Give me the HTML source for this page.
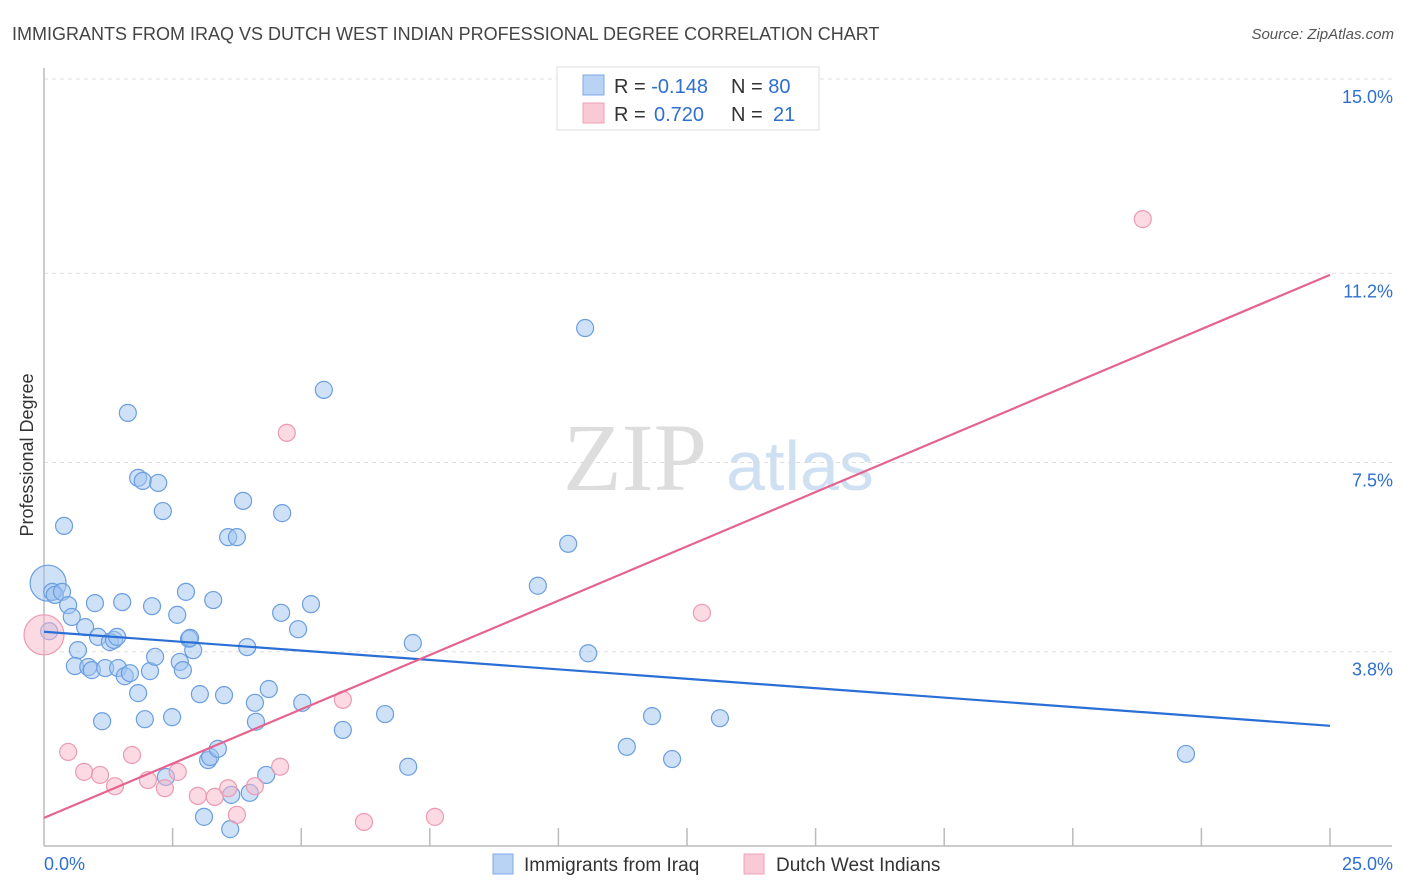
<!DOCTYPE html>
<html><head><meta charset="utf-8">
<style>
body{margin:0;background:#fff;font-family:"Liberation Sans",sans-serif;}
#wrap{position:relative;width:1406px;height:892px;overflow:hidden;}
</style></head>
<body>
<div id="wrap">
<svg id="chart" width="1406" height="892" xmlns="http://www.w3.org/2000/svg">
  <text x="12" y="40" font-size="18" fill="#444">IMMIGRANTS FROM IRAQ VS DUTCH WEST INDIAN PROFESSIONAL DEGREE CORRELATION CHART</text>
  <text x="1394" y="39" font-size="15" fill="#555" font-style="italic" text-anchor="end">Source: ZipAtlas.com</text>
  <text transform="translate(33,455) rotate(-90)" font-size="18" fill="#333" text-anchor="middle">Professional Degree</text>
  <g>
    <text x="635" y="490" font-size="96" fill="#ddd" font-family="Liberation Serif, serif" text-anchor="middle">ZIP</text>
    <text x="800" y="490" font-size="70" fill="#cfe0f3" text-anchor="middle">atlas</text>
  </g>
  <g id="grid"></g>
  <g id="axes"></g>
  <g id="pts"></g>
  <g id="trend"></g>
  <g>
    <rect x="557" y="67" width="262" height="63" fill="#fff" stroke="#ddd"/>
    <rect x="583" y="75" width="21" height="20" fill="#b9d3f5" stroke="#7fa9e6"/>
    <rect x="583" y="103" width="21" height="20" fill="#f9c9d6" stroke="#eea0b6"/>
    <text x="614" y="93" font-size="20" fill="#333">R = <tspan fill="#2e6fd0">-0.148</tspan><tspan x="731">N = </tspan><tspan fill="#2e6fd0">80</tspan></text>
    <text x="614" y="121" font-size="20" fill="#333">R = <tspan fill="#2e6fd0" x="654">0.720</tspan><tspan x="731">N = </tspan><tspan fill="#2e6fd0" x="773">21</tspan></text>
  </g>
  <g>
    <rect x="493" y="854" width="20" height="20" fill="#b9d3f5" stroke="#7fa9e6"/>
    <text x="524" y="871" font-size="19" fill="#333">Immigrants from Iraq</text>
    <rect x="744" y="854" width="20" height="20" fill="#f9c9d6" stroke="#eea0b6"/>
    <text x="776" y="871" font-size="19" fill="#333">Dutch West Indians</text>
  </g>
</svg>
</div>
<script>
const yTicks = [15.0, 11.2, 7.5, 3.8];
const yTickLabels = ["15.0%", "11.2%", "7.5%", "3.8%"];
const xTickCount = 10;
const xLabels = ["0.0%", "25.0%"];
const iraqX = [0.08,0.16,0.21,0.35,0.47,0.54,0.66,0.60,0.80,0.86,0.93,0.99,1.05,1.13,1.19,1.28,1.36,1.42,1.44,1.52,1.57,1.63,1.67,1.83,1.83,1.92,1.96,2.06,2.10,2.16,2.22,2.31,2.37,2.49,2.59,2.64,2.70,2.76,2.82,2.90,3.03,3.11,3.19,3.23,3.29,3.38,3.50,3.58,3.64,3.62,3.75,3.87,3.95,4.00,4.10,4.12,4.32,4.37,4.61,4.63,4.94,5.02,5.19,5.44,5.81,6.63,7.08,7.17,9.60,10.19,10.52,10.58,11.33,11.82,12.21,13.14,22.20,0.39,2.84,0.10];
const iraqY = [5.14,4.97,4.91,4.97,4.71,4.48,3.83,3.52,4.28,3.50,3.44,4.75,4.09,2.44,3.48,3.99,4.03,4.09,3.48,4.77,3.32,8.47,3.38,2.99,7.20,7.14,2.48,3.42,4.69,3.70,7.10,6.55,1.35,2.52,4.52,3.60,3.44,4.97,4.05,3.83,2.97,0.57,1.68,1.74,4.81,1.90,2.95,6.04,1.00,0.33,6.04,6.75,3.89,1.04,2.80,2.43,1.39,3.07,4.56,6.51,4.24,2.80,4.73,8.92,2.27,2.58,1.55,3.97,5.09,5.91,10.13,3.77,1.94,2.54,1.70,2.50,1.80,6.26,4.07,4.20];
const iraqSize = [18];
const dutchX = [0.0,0.47,0.78,1.09,1.38,1.71,2.02,2.35,2.60,2.99,3.32,3.58,3.75,4.10,4.59,4.72,5.81,6.22,7.60,12.79,21.36];
const dutchY = [4.13,1.84,1.45,1.39,1.17,1.78,1.29,1.13,1.45,0.98,0.96,1.13,0.61,1.17,1.55,8.08,2.86,0.47,0.57,4.56,12.26];
const dutchSize = [20];
const iraqTrend = [4.19, 2.35];
const dutchTrend = [0.55, 11.17];
const xDomain = [0, 25];
const yDomain = [0, 15];

const NS = "http://www.w3.org/2000/svg";
const X0 = 44, X1 = 1330, Y0 = 846, Y1 = 79;
function sx(v){ return X0 + (v - xDomain[0]) / (xDomain[1] - xDomain[0]) * (X1 - X0); }
function sy(v){ return Y0 - (v - yDomain[0]) / (yDomain[1] - yDomain[0]) * (Y0 - Y1); }
function mk(tag, attrs, parent){ const e = document.createElementNS(NS, tag); for (const k in attrs) e.setAttribute(k, attrs[k]); parent.appendChild(e); return e; }

const grid = document.getElementById('grid');
yTicks.forEach((t, i) => {
  const l = mk('line', {x1: 44, x2: 1392, y1: sy(t), y2: sy(t), stroke: '#ddd', 'stroke-dasharray': '4,4'}, grid);
  
  
  const tx = mk('text', {x: 1393, y: sy(t) + 24, 'font-size': 18, fill: '#2e6fd0', 'text-anchor': 'end'}, grid);
  tx.textContent = yTickLabels[i];
  
  
});
const axes = document.getElementById('axes');
const ya = mk('line', {x1: 44, x2: 44, y1: 68, y2: 846, stroke: '#bbb', 'stroke-width': 1.5}, axes);


const xa = mk('line', {x1: 44, x2: 1392, y1: 846, y2: 846, stroke: '#bbb', 'stroke-width': 1.5}, axes);


for (let i = 1; i <= xTickCount; i++) {
  const v = xDomain[0] + (xDomain[1] - xDomain[0]) * i / xTickCount;
  const t = mk('line', {x1: sx(v), x2: sx(v), y1: 828, y2: 846, stroke: '#bbb', 'stroke-width': 1.5}, axes);
  
  
}
const xl0 = mk('text', {x: 44, y: 870, 'font-size': 18, fill: '#2e6fd0'}, axes);
xl0.textContent = xLabels[0];


const xl1 = mk('text', {x: 1393, y: 870, 'font-size': 18, fill: '#2e6fd0', 'text-anchor': 'end'}, axes);
xl1.textContent = xLabels[1];



const pts = document.getElementById('pts');
iraqX.forEach((x, i) => {
  const r = (i === 0) ? iraqSize[0] : 8.5;
  const c = mk('circle', {cx: sx(x), cy: sy(iraqY[i]), r: r, fill: 'rgba(160,196,240,0.5)', stroke: '#6b9ee0', 'stroke-width': 1.2}, pts);
  
  
});
dutchX.forEach((x, i) => {
  const r = (i === 0) ? dutchSize[0] : 8.5;
  const c = mk('circle', {cx: sx(x), cy: sy(dutchY[i]), r: r, fill: 'rgba(247,182,201,0.5)', stroke: '#ec9ab2', 'stroke-width': 1.2}, pts);
  
  
});

const trend = document.getElementById('trend');
const tl1 = mk('line', {x1: sx(xDomain[0]), y1: sy(iraqTrend[0]), x2: sx(xDomain[1]), y2: sy(iraqTrend[1]), stroke: '#2a6fd6', 'stroke-width': 2.2}, trend);


const tl2 = mk('line', {x1: sx(xDomain[0]), y1: sy(dutchTrend[0]), x2: sx(xDomain[1]), y2: sy(dutchTrend[1]), stroke: '#e5648f', 'stroke-width': 2.2}, trend);


</script>
</body></html>
